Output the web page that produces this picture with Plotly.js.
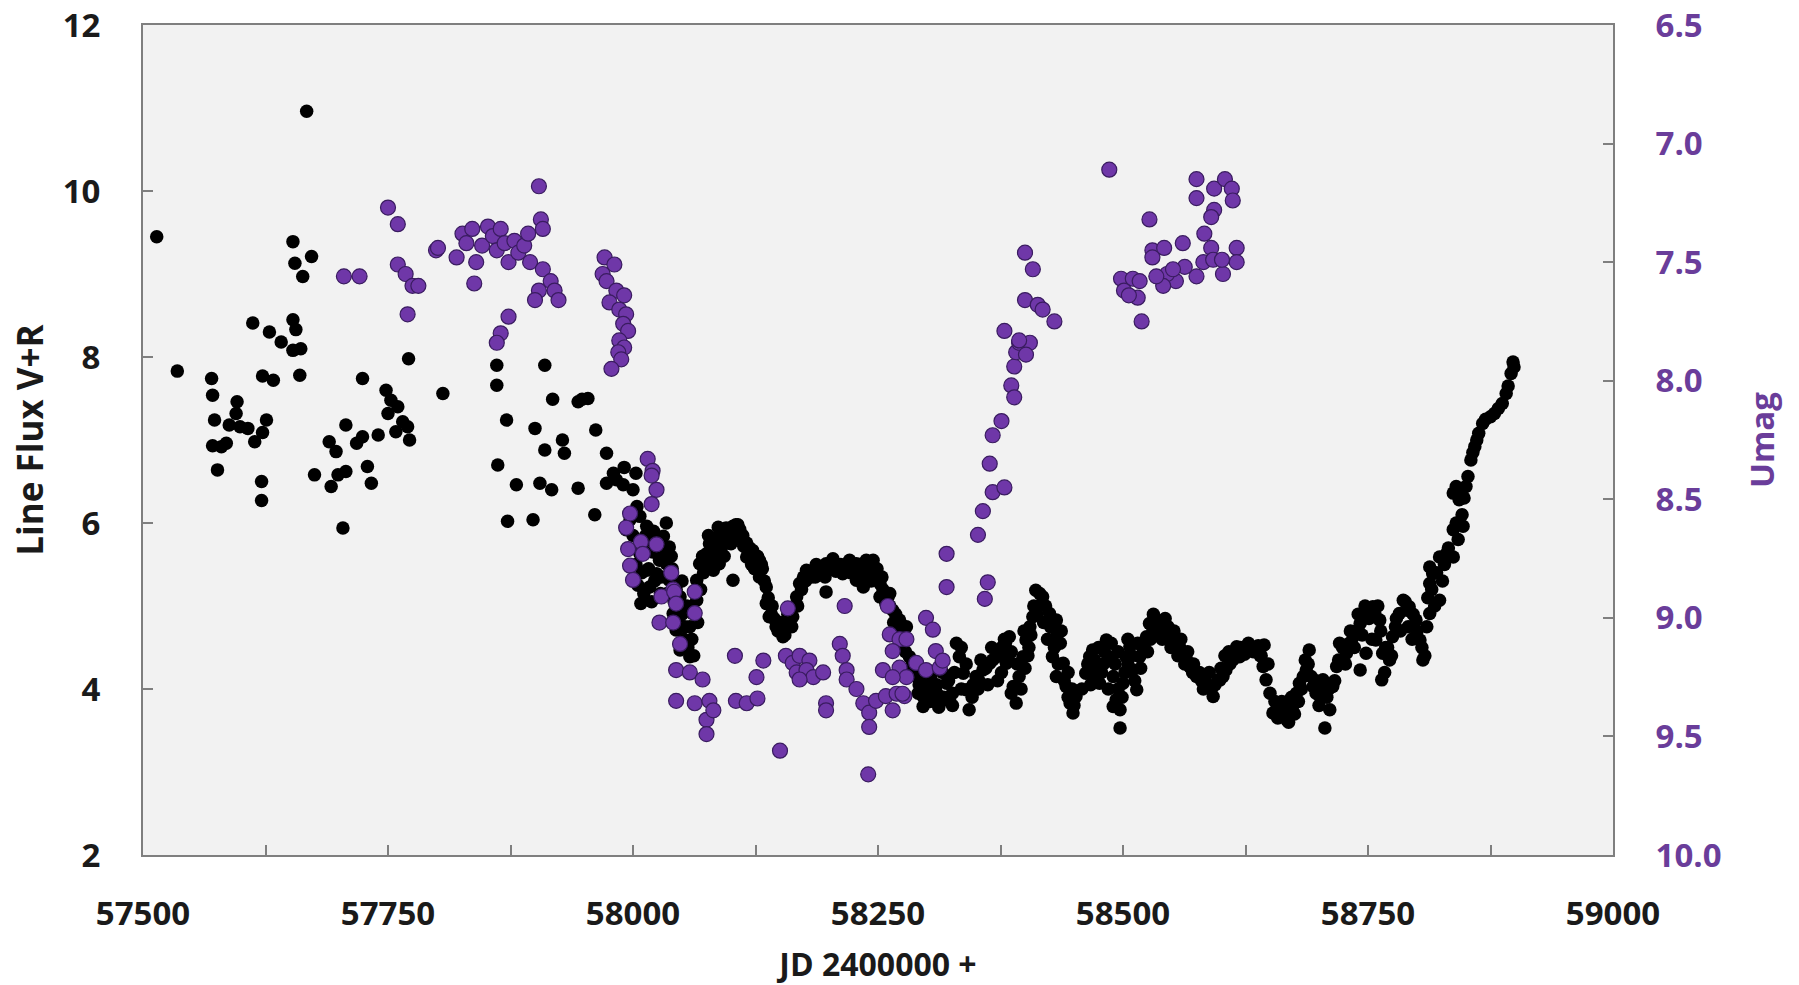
<!DOCTYPE html>
<html>
<head>
<meta charset="utf-8">
<script src="https://cdn.plot.ly/plotly-3.0.1.min.js"></script>
<style>
html,body{margin:0;padding:0;background:#fff;}
#chart{width:1799px;height:985px;}
</style>
</head>
<body>
<div id="chart"></div>
<script>
// Line flux V+R (left axis) : JD - 2400000
const fluxJD = [
57514,57535,57570,57571,57573,57571,57576,57580,57585,57588,57595,57596,57599,57607,57612,57614,57621,57621,57622,57622,
57626,57629,57633,57641,57653,57653,57653,57655,57656,57660,57661,57663,57667,57672,57675,57690,57692,57697,57699,57704,
57707,57707,57718,57724,57724,57729,57733,57740,57748,57750,57753,57758,57760,57765,57770,57771,57772,57806,57861,57861,
57862,57871,57872,57881,57898,57900,57905,57910,57910,57917,57918,57928,57930,57944,57944,57948,57954,57961,57962,57973,
57973,57980,57983,57990,57991,57993,57997,58000,58003,
58007,58014,58034,58031,58037,58007,58014,58017,58008,58024,58034,58037,58048,58041,58044,58048,58058,58058,58061,58065,
58065,58068,58075,58082,58088,58095,58102,58109,58095,58088,58082,58102,58116,58122,58129,58116,58129,58136,58136,58139,
58146,58153,58156,58163,58167,58170,58177,58184,58190,58197,58204,58197,58214,58221,58228,58238,58245,58228,58235,58245,
58252,58252,58258,58265,58272,58279,58262,58272,58282,58289,58296,58296,58306,58313,58323,58320,58330,58333,58337,58340,
58343,58350,58357,58364,58371,58377,58384,58381,58388,58391,58394,58398,58401,58405,58408,58411,58418,58425,58432,58432,
58428,58432,58439,58442,58446,58449,58452,58462,58466,58469,58473,58469,58476,58483,58486,58490,58490,58493,58497,58497,
58500,58503,58507,58510,58514,58517,58524,58527,58534,58541,58548,58554,58561,58568,58575,58585,58592,58597,58599,58605,
58612,58616,58619,58626,58636,58644,58643,58646,58650,58653,58660,58667,58673,58677,58680,58687,58690,58694,58701,58704,
58706,58711,58714,58718,58721,58728,58735,58742,58748,58755,58762,58742,58748,58758,58765,58764,58772,58775,58782,58786,
58792,58799,58803,58806,58810,58813,58823,58813,58816,58813,58823,58830,58837,58837,58847,58843,58850,58837,58840,58844,
58840,58852,58855,58859,58863,58867,58879,58887,58891,58896,58898,
58000,58003,58005,58010,58011,58020,58021,58027,58028,58040,58044,58050,58052,
58072,58078,58085,58092,58098,58105,58112,58119,58125,58132,58142,58150,58160,58165,58174,58180,58187,58193,58200,58208,
58218,58225,58232,58241,58248,58255,58262,58268,58276,58285,58292,58300,58303,58310,58317,58326,58328,58335,58347,58353,
58360,58367,58374,58380,58386,58400,58404,58414,58421,58436,58444,58458,58480,58495,58505,58520,58530,58538,58545,58551,
58558,58565,58571,58580,58590,58602,58609,58622,58630,58640,58657,58663,58670,58684,58697,58708,58725,58731,58738,58745,
58752,58768,58778,58790,58796,58818,58826,58833,58842,58846,58848,58857,58861,58870,58875,58883,58893,58899,
58292,58298,58304,58310,58316,58322,58326,58300,58312,
58335,58340,58346,58352,58355,58362,58366,58372,58376,58379,58383,58386,58392,58396,58399,
58403,58406,58409,58412,58415,58419,58423,58426,58430,58434,58437,58440,58444,58448,58450,
58464,58467,58471,58475,58478,58481,58485,58488,58492,58495,58499,58502,58505,58509,58512,58515,58518,58521,
58525,58528,58531,58534,58537,58540,58543,58546,58549,58552,58556,58559,58563,58566,
58572,58578,58582,58588,58594,58600,58604,58608,58614,58620,58624,58628,58633,58638,58641,58648,
58655,58658,58662,58665,58669,58672,58675,58679,58682,58686,58689,58692,58697,58700,58703,
58710,58716,58720,58724,58727,58732,58736,58740,58744,58747,58751,58754,58757,58760,58763,58767,58770,58774,58779,58783,
58788,58791,58795,58800,58805,58808,58811,58815,58820,58828,58832,
58002,58004,58009,58013,58016,58019,58022,58025,58029,58032,58035,58039,58042,58046,58050,58053,58055,58056,58060,58062,
58066,58069,
58071,58074,58077,58080,58084,58087,58090,58093,58097,58100,58104,58107,58110,58113,58118,58121,58124,58127,58131,58134,
58138,58141,58144,58148,58151,58155,
58158,58162,58168,58172,58176,58182,58186,58192,58196,58202,58207,58212,58216,58222,58226,58231,58236,58240,58243,58249,
58254,58257,58260,58266,58270,58274,58278,58283,58287,58291
];
const fluxVR = [
9.45,7.83,7.74,7.54,7.24,6.93,6.64,6.92,6.96,7.18,7.32,7.46,7.16,7.14,8.41,6.98,6.50,6.27,7.09,7.77,
7.24,8.30,7.72,8.18,8.45,8.08,9.39,9.13,8.33,7.78,8.10,8.97,10.96,9.21,6.58,6.98,6.44,6.86,6.58,5.94,
6.62,7.18,6.96,7.04,7.74,6.68,6.48,7.06,7.60,7.32,7.48,7.10,7.40,7.22,7.16,7.98,7.00,7.56,7.90,7.66,
6.70,7.24,6.02,6.46,6.04,7.14,6.48,7.90,6.88,6.40,7.49,7.00,6.84,7.46,6.42,7.49,7.50,6.10,7.12,6.48,
6.84,6.60,6.52,6.46,6.67,5.92,6.04,6.40,6.60,
6.08,5.96,6.00,5.84,5.71,5.63,5.43,5.23,5.03,5.39,5.51,5.31,5.11,4.91,4.71,4.47,4.39,4.75,4.91,5.07,
5.31,5.51,5.63,5.71,5.84,5.94,5.96,5.92,5.76,5.51,5.43,5.31,5.76,5.67,5.55,5.59,5.35,5.23,5.03,4.87,
4.75,4.63,4.79,4.87,5.11,5.27,5.43,5.43,5.47,5.51,5.57,5.17,5.39,5.55,5.51,5.55,5.55,5.31,5.23,5.35,
5.27,5.11,5.03,4.95,4.83,4.75,5.15,4.79,4.39,4.15,3.91,3.79,3.91,3.83,3.87,4.07,4.55,4.39,4.19,3.99,
3.75,4.15,4.23,4.31,4.39,4.51,4.63,4.31,4.03,3.83,4.15,4.39,4.59,4.75,4.87,5.19,5.11,4.91,4.83,4.63,
4.39,4.15,4.31,4.03,3.83,3.71,3.91,4.19,4.39,4.47,4.27,4.15,4.07,4.59,4.39,4.15,3.79,3.87,3.75,3.53,
4.07,4.39,4.51,4.23,3.99,4.39,4.63,4.79,4.83,4.79,4.63,4.55,4.43,4.27,4.15,4.07,3.91,4.11,4.11,4.23,
4.35,4.51,4.39,4.51,4.47,4.53,4.27,4.11,3.95,3.71,3.79,3.63,3.79,3.95,4.07,4.23,4.47,4.03,3.91,4.11,
3.53,3.75,4.03,4.27,4.55,4.43,4.63,4.79,4.95,4.99,4.83,4.23,4.43,4.59,4.43,4.11,4.35,4.63,4.91,5.07,
4.99,4.83,4.59,4.35,4.75,4.91,5.07,5.27,5.39,5.47,5.59,5.63,5.59,5.92,5.96,6.28,6.44,6.36,6.44,6.36,
6.00,6.56,6.76,6.92,7.08,7.20,7.32,7.44,7.56,7.80,7.94,
5.85,5.50,5.25,5.75,5.15,5.65,5.90,5.55,5.15,5.45,5.20,4.90,4.60,
5.40,5.75,5.80,5.88,5.90,5.98,5.85,5.70,5.60,5.45,5.00,4.80,4.95,5.00,5.35,5.40,5.50,5.44,5.48,5.50,
5.45,5.50,5.45,5.48,5.42,5.20,5.00,4.90,4.60,4.30,4.05,4.00,3.85,3.95,3.90,3.95,4.20,4.00,4.05,4.10,
4.25,4.35,4.45,4.55,4.45,4.25,4.50,5.00,5.00,4.55,4.20,4.00,4.30,4.00,4.30,4.50,4.75,4.80,4.70,4.60,
4.50,4.35,4.20,4.10,4.00,4.15,4.30,4.45,4.50,4.40,3.75,3.70,3.70,4.15,3.95,3.90,4.50,4.55,4.70,4.85,
4.95,4.50,4.75,4.95,4.90,5.00,5.30,5.60,5.80,6.10,6.30,6.85,7.00,7.25,7.28,7.38,7.65,7.88,
4.20,4.10,4.15,4.05,4.20,4.10,3.80,3.85,3.78,
4.50,4.30,3.90,4.00,4.35,4.05,4.50,4.10,4.20,4.60,4.40,3.95,4.30,4.00,4.70,
4.40,4.65,5.00,4.90,5.15,4.80,4.60,4.75,4.50,4.30,4.70,4.10,3.90,4.00,3.80,
4.30,4.05,4.35,4.50,4.20,4.45,4.00,4.55,4.30,4.45,3.90,4.20,4.60,4.40,4.10,4.55,4.25,4.50,
4.45,4.60,4.90,4.65,4.75,4.60,4.85,4.75,4.50,4.70,4.40,4.60,4.30,4.45,
4.30,4.20,4.00,4.20,4.05,4.25,4.40,4.45,4.40,4.50,4.42,4.55,4.45,4.52,4.40,4.30,
3.85,3.65,3.85,3.75,3.60,3.90,3.70,3.85,4.00,4.35,4.30,4.15,4.10,3.80,4.00,
4.00,4.10,4.35,4.50,4.30,4.70,4.50,4.90,4.65,5.00,4.85,4.60,4.90,5.00,4.70,4.20,4.50,4.40,4.85,4.70,
5.05,4.75,4.60,4.70,4.50,4.40,5.10,5.20,5.40,5.50,5.70,
5.30,6.20,5.40,5.85,5.45,5.05,5.30,5.80,5.35,5.65,5.15,5.60,5.05,4.85,5.30,4.75,5.00,4.50,4.60,4.40,
4.80,5.20,
5.60,5.50,5.85,5.55,5.65,5.95,5.70,5.60,5.85,5.75,5.85,5.98,5.80,5.72,5.65,5.50,5.45,5.60,5.50,5.30,
5.10,4.90,4.85,4.70,4.70,4.65,
4.90,4.75,5.00,5.20,5.30,5.35,5.35,5.40,5.35,5.45,5.42,5.50,5.45,5.40,5.42,5.50,5.38,5.40,5.30,5.45,
5.35,5.15,5.10,4.80,4.70,4.55,4.45,4.20,4.30,3.95
];

// U magnitude (right axis, reversed) : JD - 2400000
const umagJD = [
57705,57721,57750,57760,57760,57768,57775,57781,57770,57799,57801,57820,57826,57830,57836,57838,57840,57846,57852,57857,
57861,57865,57869,57873,57879,57883,57889,57893,57895,57904,57906,57908,57908,57904,57900,57916,57920,57924,57873,57865,
57861,57971,57981,57969,57973,57983,57991,57976,57986,57993,57990,57995,57986,57991,57985,57988,57978,58015,58020,58019,
58024,58019,57997,57993,58008,58024,57995,58010,57997,58000,58039,58041,58029,58042,58044,58027,58041,58063,58063,58048,
58044,58058,58071,58044,58063,58078,58075,58075,58082,58104,58133,58126,58105,58116,58127,58150,58158,58156,58163,58170,
58180,58167,58177,58184,58170,58194,58197,58197,58216,58211,58214,58218,58218,58228,58235,58241,58241,58248,58258,58269,
58277,58240,58260,58262,58272,58265,58255,58272,58279,58265,58265,58275,58279,58289,58299,58313,58309,58316,58299,58306,
58320,58320,58352,58357,58362,58359,58367,58379,58364,58367,58376,58386,58389,58389,58391,58394,58405,58401,58394,58379,
58400,58413,58418,58430,58400,58408,58486,58575,58575,58593,58604,58611,58612,58593,58590,58583,58527,58530,58542,58561,
58590,58616,58616,58602,58582,58592,58601,58575,58563,58554,58545,58541,58530,58534,58498,58510,58501,58515,58506,58519,
58551,58517
];
const umagVal = [
7.56,7.56,7.27,7.34,7.51,7.55,7.60,7.60,7.72,7.45,7.44,7.48,7.38,7.42,7.36,7.59,7.50,7.43,7.35,7.39,
7.45,7.36,7.42,7.50,7.41,7.46,7.43,7.38,7.50,7.18,7.32,7.36,7.53,7.62,7.66,7.58,7.62,7.66,7.73,7.80,
7.84,7.48,7.51,7.55,7.58,7.62,7.64,7.67,7.70,7.72,7.76,7.79,7.83,7.86,7.88,7.91,7.95,8.33,8.38,8.40,
8.46,8.52,8.56,8.62,8.68,8.69,8.71,8.73,8.78,8.84,8.81,8.88,8.91,8.89,8.94,9.02,9.02,8.89,8.98,9.11,
9.22,9.23,9.26,9.35,9.36,9.35,9.43,9.49,9.39,9.16,9.18,9.25,9.35,9.36,9.34,9.56,8.96,9.16,9.19,9.16,
9.18,9.23,9.22,9.25,9.26,9.23,9.36,9.39,8.95,9.11,9.16,9.22,9.26,9.30,9.36,9.40,9.46,9.35,9.33,9.32,
9.33,9.66,8.95,9.07,9.09,9.14,9.22,9.21,9.25,9.25,9.39,9.32,9.09,9.19,9.22,9.21,9.14,9.18,9.00,9.05,
8.73,8.87,8.65,8.55,8.85,8.92,8.47,8.45,8.35,8.23,8.17,8.02,8.07,7.94,7.88,7.84,7.84,7.89,7.83,7.79,
7.66,7.68,7.70,7.75,7.46,7.53,7.11,7.15,7.23,7.19,7.15,7.19,7.24,7.28,7.31,7.38,7.32,7.45,7.44,7.42,
7.44,7.44,7.50,7.55,7.50,7.49,7.49,7.56,7.52,7.58,7.55,7.60,7.48,7.56,7.57,7.57,7.62,7.65,7.64,7.75,
7.53,7.58
];

// axis ticks
const jdTickVals = [57500,57625,57750,57875,58000,58125,58250,58375,58500,58625,58750,58875,59000];
const jdTickText = ['57500','','57750','','58000','','58250','','58500','','58750','','59000'];
const fluxTickVals = [2,4,6,8,10,12];
const umagTickVals = [6.5,7.0,7.5,8.0,8.5,9.0,9.5,10.0];
const umagTickText = ['6.5','7.0','7.5','8.0','8.5','9.0','9.5','10.0'];

const FONT = 'Open Sans, Noto Sans, DejaVu Sans, sans-serif';
const AX = '#7f7f7f';
const PURPLE_TXT = '#6a3d9a';

const traces = [
  {
    x: fluxJD, y: fluxVR, type: 'scatter', mode: 'markers', name: 'Line Flux V+R',
    marker: {color: '#000000', size: 13.5, line: {width: 0}},
    yaxis: 'y', hoverinfo: 'x+y'
  },
  {
    x: umagJD, y: umagVal, type: 'scatter', mode: 'markers', name: 'Umag',
    marker: {color: '#6f37a8', size: 15, line: {color: '#3a1c60', width: 1.2}},
    yaxis: 'y2', hoverinfo: 'x+y'
  }
];

const layout = {
  width: 1799, height: 985,
  margin: {l: 143, r: 186, t: 25, b: 130, pad: 0},
  paper_bgcolor: '#ffffff',
  plot_bgcolor: '#f2f2f2',
  showlegend: false,
  font: {family: FONT, color: '#1a1a1a'},
  xaxis: {
    range: [57500, 59000], tickmode: 'array', tickvals: jdTickVals, ticktext: jdTickText,
    ticks: 'inside', ticklen: 10, tickwidth: 2, tickcolor: AX,
    showline: true, linecolor: AX, linewidth: 2, mirror: true,
    showgrid: false, zeroline: false, automargin: false,
    tickfont: {family: FONT, size: 33, color: '#1a1a1a', weight: 700},
    ticklabelstandoff: 28,
    title: {text: 'JD 2400000 +', font: {family: FONT, size: 32, color: '#1a1a1a', weight: 700}, standoff: 32}
  },
  yaxis: {
    range: [2, 12], tickmode: 'array', tickvals: fluxTickVals,
    ticks: 'inside', ticklen: 10, tickwidth: 2, tickcolor: AX,
    showline: true, linecolor: AX, linewidth: 2, mirror: false,
    showgrid: false, zeroline: false, automargin: false,
    tickfont: {family: FONT, size: 33, color: '#1a1a1a', weight: 700},
    ticklabelstandoff: 34,
    title: {text: 'Line Flux V+R', font: {family: FONT, size: 35, color: '#1a1a1a', weight: 700}, standoff: 8}
  },
  yaxis2: {
    overlaying: 'y', side: 'right', anchor: 'x',
    range: [10, 6.5], tickmode: 'array', tickvals: umagTickVals, ticktext: umagTickText,
    ticks: 'inside', ticklen: 10, tickwidth: 2, tickcolor: AX,
    showline: true, linecolor: AX, linewidth: 2,
    showgrid: false, zeroline: false, automargin: false,
    tickfont: {family: FONT, size: 33, color: PURPLE_TXT, weight: 700},
    ticklabelstandoff: 34,
    title: {text: 'Umag', font: {family: FONT, size: 33, color: PURPLE_TXT, weight: 700}, standoff: 30}
  }
};

Plotly.newPlot('chart', traces, layout, {displayModeBar: false, staticPlot: true});
</script>
</body>
</html>
